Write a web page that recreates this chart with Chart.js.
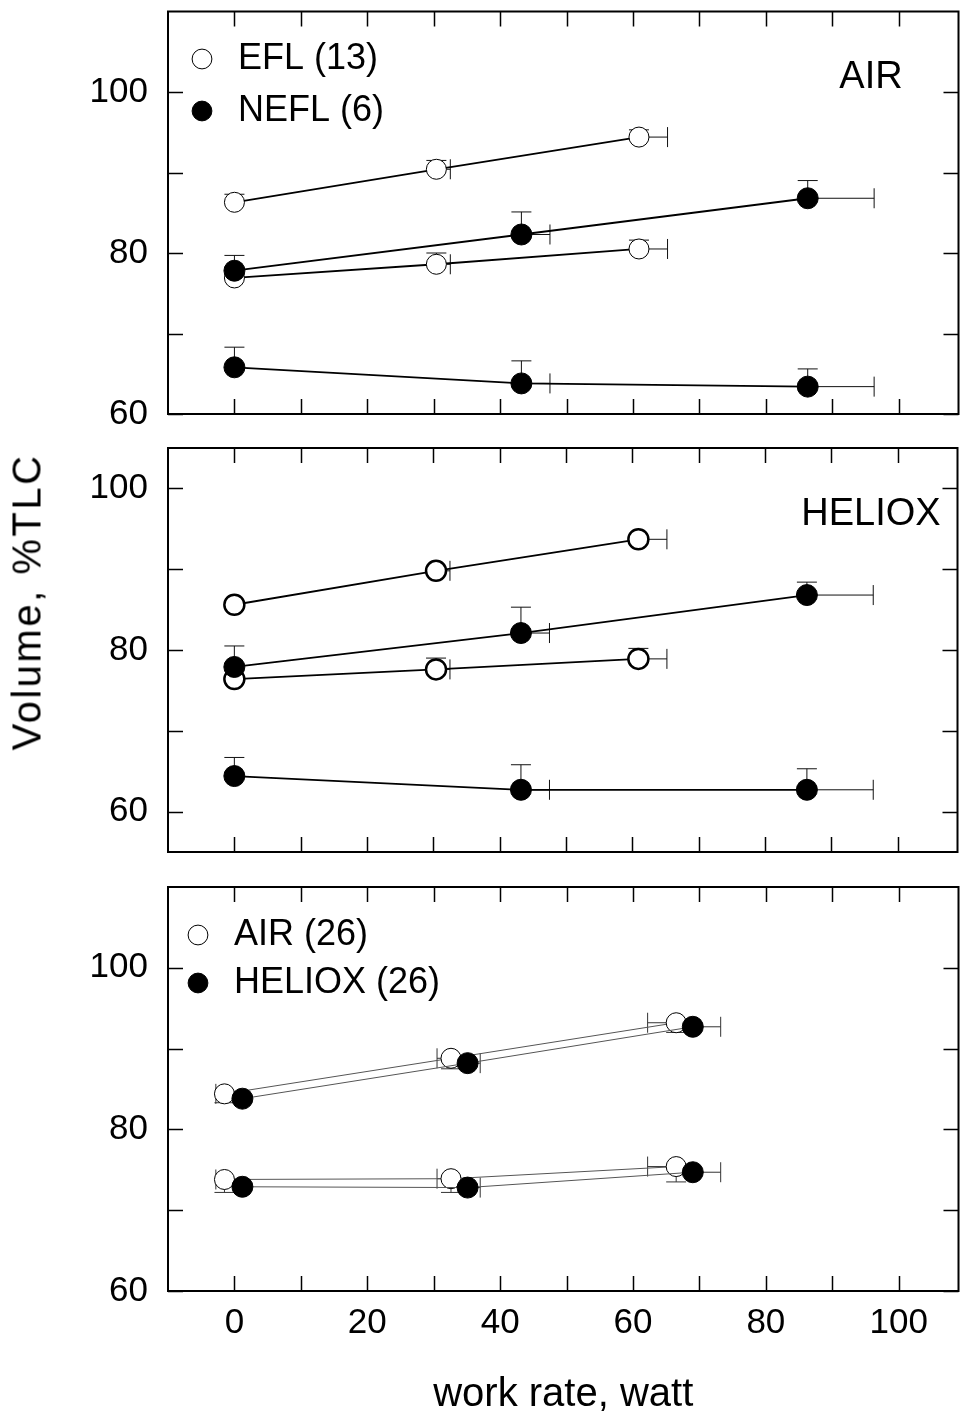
<!DOCTYPE html>
<html lang="en">
<head>
<meta charset="UTF-8">
<title>Volume, %TLC vs work rate</title>
<script src="https://cdn.jsdelivr.net/npm/chart.js"></script>
<style>
    body { margin: 0; background: #fff; }
    #wrap { position: relative; width: 970px; height: 1421px; overflow: hidden; }
    #wrap canvas { position: absolute; left: 0; }
    #ytitle {
        position: absolute; left: 27px; top: 602px;
        transform: translate(-50%, -50%) rotate(-90deg);
        font: 40px 'Liberation Sans', Arial, sans-serif;
        letter-spacing: 2.5px;
        white-space: nowrap; color: #000;
    }
</style>
</head>
<body>
<div id="wrap">
    <canvas id="airChart" width="970" height="430" style="top:0px"></canvas>
    <canvas id="helioxChart" width="970" height="440" style="top:430px"></canvas>
    <canvas id="compChart" width="970" height="551" style="top:870px"></canvas>
    <div id="ytitle">Volume, %TLC</div>
</div>

<script>
// axes
const xTicks = [0, 10, 20, 30, 40, 50, 60, 70, 80, 90, 100];
const xLabels = [0, 20, 40, 60, 80, 100];
const yTicks = [60, 70, 80, 90, 100];
const yLabels = [60, 80, 100];

// work rate (watt) for the two groups, and their SD (right side)
const wEFL = [0, 30.4, 60.9];
const wEFLsd = [0, 2.1, 4.3];
const wNEFL = [0, 43.2, 86.3];
const wNEFLsd = [0, 4.3, 10.0];

// top panel - AIR
const airEflHigh = [86.3, 90.4, 94.4];
const airEflHighSd = [1.0, 1.1, 0.9];
const airEflLow = [76.9, 78.6, 80.5];
const airEflLowSd = [0.5, 1.4, 1.1];
const airNeflHigh = [77.8, 82.3, 86.8];
const airNeflHighSd = [1.9, 2.8, 2.2];
const airNeflLow = [65.8, 63.8, 63.4];
const airNeflLowSd = [2.5, 2.8, 2.2];

// middle panel - HELIOX
const helEflHigh = [85.6, 89.8, 93.7];
const helEflHighSd = [0.3, 0.4, 0.3];
const helEflLow = [76.4, 77.6, 78.9];
const helEflLowSd = [0.3, 1.4, 1.3];
const helNeflHigh = [77.9, 82.1, 86.8];
const helNeflHighSd = [2.6, 3.2, 1.6];
const helNeflLow = [64.4, 62.7, 62.7];
const helNeflLowSd = [2.3, 3.1, 2.6];

// bottom panel - all subjects, air vs heliox
const wAir = [-1.5, 32.6, 66.5];
const wAirSd = [-1.3, -2.1, -4.3];
const wHel = [1.2, 35.1, 69.0];
const wHelSd = [0.5, 1.9, 4.2];
const allAirHigh = [84.4, 88.8, 93.2];
const allAirHighSd = [-1.1, -1.3, -1.2];
const allAirLow = [73.8, 73.9, 75.4];
const allAirLowSd = [-1.6, -1.7, -1.9];
const allHelHigh = [83.8, 88.2, 92.7];
const allHelLow = [72.9, 72.8, 74.7];

Chart.defaults.font.family = "'Liberation Sans', Arial, sans-serif";
Chart.defaults.color = '#000';

function serie(label, xs, ys, ySd, xSd, filled, st) {
    return {
        label: label,
        data: xs.map((x, i) => ({ x: x, y: ys[i] })),
        errY: ySd,
        errX: xSd,
        showLine: true,
        order: filled ? 0 : 1,   // filled markers sit on top
        borderColor: st.line,
        borderWidth: st.lineWidth,
        pointRadius: filled ? 10.5 : 10,
        pointBackgroundColor: filled ? '#000' : '#fff',
        pointBorderColor: '#000',
        pointBorderWidth: filled ? 1 : st.ring,
        errColor: st.err
    };
}

// error bars, drawn under the markers
const errorBars = {
    id: 'errorBars',
    beforeDatasetsDraw(chart) {
        const ctx = chart.ctx;
        const x = chart.scales.x, y = chart.scales.y;
        const cap = 10;
        ctx.save();
        chart.data.datasets.forEach(ds => {
            ctx.strokeStyle = ds.errColor;
            ctx.lineWidth = 1;
            ds.data.forEach((p, i) => {
                const px = x.getPixelForValue(p.x);
                const py = y.getPixelForValue(p.y);
                const ey = ds.errY ? ds.errY[i] : 0;
                const ex = ds.errX ? ds.errX[i] : 0;
                ctx.beginPath();
                if (ey) {
                    const ty = y.getPixelForValue(p.y + ey);
                    ctx.moveTo(px, py); ctx.lineTo(px, ty);
                    ctx.moveTo(px - cap, ty); ctx.lineTo(px + cap, ty);
                }
                if (ex) {
                    const tx = x.getPixelForValue(p.x + ex);
                    ctx.moveTo(px, py); ctx.lineTo(tx, py);
                    ctx.moveTo(tx, py - cap); ctx.lineTo(tx, py + cap);
                }
                ctx.stroke();
            });
        });
        ctx.restore();
    }
};

// box round the plot with ticks pointing inwards
const frame = {
    id: 'frame',
    afterDraw(chart) {
        const ctx = chart.ctx;
        const a = chart.chartArea;
        const x = chart.scales.x, y = chart.scales.y;
        const len = 15;
        ctx.save();
        ctx.strokeStyle = '#000';
        ctx.lineWidth = 1.5;
        ctx.beginPath();
        xTicks.forEach(v => {
            const px = Math.round(x.getPixelForValue(v)) + 0.5;
            ctx.moveTo(px, a.top); ctx.lineTo(px, a.top + len);
            ctx.moveTo(px, a.bottom); ctx.lineTo(px, a.bottom - len);
        });
        yTicks.forEach(v => {
            const py = Math.round(y.getPixelForValue(v)) + 0.5;
            ctx.moveTo(a.left, py); ctx.lineTo(a.left + len, py);
            ctx.moveTo(a.right, py); ctx.lineTo(a.right - len, py);
        });
        ctx.stroke();
        ctx.lineWidth = 2;
        ctx.strokeRect(a.left, a.top, a.right - a.left, a.bottom - a.top);
        ctx.restore();
    }
};

// "AIR" / "HELIOX" inside the panel
const panelLabel = {
    id: 'panelLabel',
    afterDraw(chart, args, opts) {
        if (!opts.text) return;
        const ctx = chart.ctx;
        const a = chart.chartArea;
        ctx.save();
        ctx.font = "38px 'Liberation Sans', Arial, sans-serif";
        ctx.fillStyle = '#000';
        ctx.textAlign = 'center';
        ctx.textBaseline = 'middle';
        ctx.fillText(opts.text, a.left + opts.dx, a.top + opts.dy);
        ctx.restore();
    }
};

// the chartArea legend starts at the canvas top, move it down into the plot
const legendShift = {
    id: 'legendShift',
    afterLayout(chart, args, opts) {
        if (chart.legend && opts.dy) {
            chart.legend.top += opts.dy;
        }
    }
};

function yScale(min, max) {
    return {
        type: 'linear', min: min, max: max,
        afterBuildTicks: s => { s.ticks = yTicks.map(v => ({ value: v })); },
        afterFit: s => { s.width = 168; s.paddingTop = 0; s.paddingBottom = 0; },
        grid: { display: false, drawTicks: false },
        border: { display: false },
        ticks: {
            padding: 20, font: { size: 35 }, color: '#000',
            callback: v => yLabels.includes(v) ? String(v) : ''
        }
    };
}

function xScale(show) {
    return {
        type: 'linear', min: -10, max: 109,
        display: show,
        afterBuildTicks: s => { s.ticks = xTicks.map(v => ({ value: v })); },
        afterFit: s => { s.height = show ? 130 : 0; s.paddingLeft = 0; s.paddingRight = 0; },
        grid: { display: false, drawTicks: false },
        border: { display: false },
        ticks: {
            padding: 11, font: { size: 35 }, color: '#000', autoSkip: false, maxRotation: 0,
            callback: v => xLabels.includes(v) ? String(v) : ''
        },
        title: {
            display: true, text: 'work rate, watt', color: '#000',
            font: { size: 40 }, padding: { top: 0, bottom: 2 }
        }
    };
}

function legendOpts(pad) {
    return {
        display: true,
        position: 'chartArea',
        align: 'start',
        labels: {
            usePointStyle: true, boxWidth: 36, boxHeight: 14, padding: pad,
            font: { size: 36 }, color: '#000',
            sort: (a, b) => a.datasetIndex - b.datasetIndex,
            filter: (item, data) => data.datasets.findIndex(d => d.label === item.text) === item.datasetIndex
        }
    };
}

const thick = { line: '#000', lineWidth: 1.8, ring: 1, err: '#111' };
const thickRing = { line: '#000', lineWidth: 1.8, ring: 2.5, err: '#111' };
const thin = { line: '#555', lineWidth: 1, ring: 1, err: '#333' };

new Chart(document.getElementById('airChart'), {
    type: 'scatter',
    data: {
        datasets: [
            serie('EFL (13)', wEFL, airEflHigh, airEflHighSd, wEFLsd, false, thick),
            serie('EFL (13)', wEFL, airEflLow, airEflLowSd, wEFLsd, false, thick),
            serie('NEFL (6)', wNEFL, airNeflHigh, airNeflHighSd, wNEFLsd, true, thick),
            serie('NEFL (6)', wNEFL, airNeflLow, airNeflLowSd, wNEFLsd, true, thick)
        ]
    },
    options: {
        responsive: false,
        animation: false,
        layout: { padding: { top: 10, bottom: 16, left: 0, right: 2 } },
        scales: { x: xScale(false), y: yScale(60, 110) },
        plugins: {
            legend: legendOpts(16),
            legendShift: { dy: 25 },
            tooltip: { enabled: false },
            panelLabel: { text: 'AIR', dx: 703, dy: 66 }
        }
    },
    plugins: [errorBars, frame, panelLabel, legendShift]
});

new Chart(document.getElementById('helioxChart'), {
    type: 'scatter',
    data: {
        datasets: [
            serie('EFL (13)', wEFL, helEflHigh, helEflHighSd, wEFLsd, false, thickRing),
            serie('EFL (13)', wEFL, helEflLow, helEflLowSd, wEFLsd, false, thickRing),
            serie('NEFL (6)', wNEFL, helNeflHigh, helNeflHighSd, wNEFLsd, true, thickRing),
            serie('NEFL (6)', wNEFL, helNeflLow, helNeflLowSd, wNEFLsd, true, thickRing)
        ]
    },
    options: {
        responsive: false,
        animation: false,
        layout: { padding: { top: 18, bottom: 18, left: 0, right: 2 } },
        scales: { x: xScale(false), y: yScale(55, 105) },
        plugins: {
            legend: { display: false },
            tooltip: { enabled: false },
            panelLabel: { text: 'HELIOX', dx: 703, dy: 67 }
        }
    },
    plugins: [errorBars, frame, panelLabel]
});

new Chart(document.getElementById('compChart'), {
    type: 'scatter',
    data: {
        datasets: [
            serie('AIR (26)', wAir, allAirHigh, allAirHighSd, wAirSd, false, thin),
            serie('HELIOX (26)', wHel, allHelHigh, null, wHelSd, true, thin),
            serie('AIR (26)', wAir, allAirLow, allAirLowSd, wAirSd, false, thin),
            serie('HELIOX (26)', wHel, allHelLow, null, wHelSd, true, thin)
        ]
    },
    options: {
        responsive: false,
        animation: false,
        layout: { padding: { top: 17, bottom: 0, left: 0, right: 2 } },
        scales: { x: xScale(true), y: yScale(60, 110) },
        plugins: {
            legend: legendOpts(12),
            legendShift: { dy: 35 },
            tooltip: { enabled: false },
            panelLabel: { text: '' }
        }
    },
    plugins: [errorBars, frame, panelLabel, legendShift]
});
</script>
</body>
</html>
